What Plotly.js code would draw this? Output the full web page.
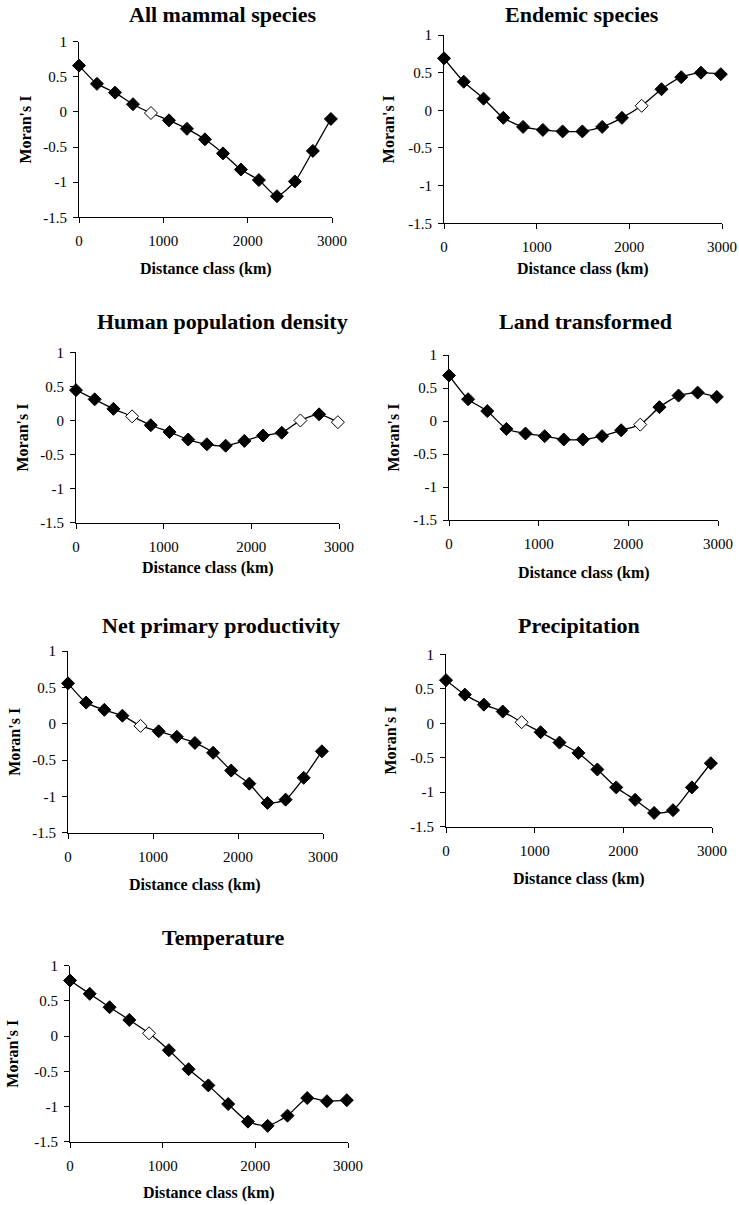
<!DOCTYPE html>
<html>
<head>
<meta charset="utf-8">
<script src="https://cdn.plot.ly/plotly-3.0.1.min.js"></script>
<style>html,body{margin:0;padding:0;background:#fff;}#chart{width:739px;height:1205px;}</style>
</head>
<body>
<div id="chart"></div>
<script>
// Distance classes (km)
var distance = [0, 213, 427, 640, 853, 1067, 1280, 1493, 1707, 1920, 2133, 2347, 2560, 2773, 2987];

// Moran's I per variable
var allMammals   = [0.66, 0.40, 0.275, 0.11, -0.015, -0.12, -0.24, -0.39, -0.59, -0.82, -0.97, -1.20, -0.99, -0.555, -0.10];
var endemic      = [0.69, 0.38, 0.155, -0.10, -0.22, -0.26, -0.28, -0.28, -0.22, -0.10, 0.06, 0.28, 0.44, 0.50, 0.48];
var humanPop     = [0.445, 0.31, 0.17, 0.06, -0.07, -0.17, -0.28, -0.35, -0.37, -0.30, -0.22, -0.18, 0.00, 0.09, -0.025];
var landTrans    = [0.69, 0.33, 0.15, -0.12, -0.19, -0.23, -0.28, -0.28, -0.23, -0.14, -0.055, 0.21, 0.385, 0.43, 0.365];
var npp          = [0.555, 0.29, 0.19, 0.11, -0.03, -0.105, -0.18, -0.265, -0.40, -0.645, -0.825, -1.09, -1.045, -0.745, -0.38];
var precip       = [0.625, 0.415, 0.27, 0.17, 0.015, -0.13, -0.28, -0.43, -0.67, -0.93, -1.11, -1.30, -1.26, -0.93, -0.58];
var temperature  = [0.79, 0.60, 0.41, 0.23, 0.04, -0.20, -0.47, -0.70, -0.965, -1.215, -1.275, -1.13, -0.88, -0.925, -0.91];

// Non-significant classes (open markers), by index
var openAll    = [4];
var openEnd    = [10];
var openHuman  = [3, 12, 14];
var openLand   = [10];
var openNpp    = [4];
var openPrec   = [4];
var openTemp   = [4];

var titles = ["All mammal species", "Endemic species", "Human population density",
              "Land transformed", "Net primary productivity", "Precipitation", "Temperature"];
var yTicks = [-1.5, -1, -0.5, 0, 0.5, 1];
var yTickText = ["-1.5", "-1", "-0.5", "0", "0.5", "1"];
var xTicks = [0, 1000, 2000, 3000];
var xTickText = ["0", "1000", "2000", "3000"];

var seriesList = [allMammals, endemic, humanPop, landTrans, npp, precip, temperature];
var openList = [openAll, openEnd, openHuman, openLand, openNpp, openPrec, openTemp];

// Layout: pixel boxes [left, right, top, bottom], title centre, x-title y, y-title x
var W = 739, H = 1205;
var panels = [
  {box: [79, 332, 41.7, 217.3],  tc: [223, 15],  xt: 269,  yt: 25},
  {box: [444, 722, 35, 223.3],   tc: [582, 15],  xt: 269,  yt: 388},
  {box: [76, 339, 352.3, 522.7], tc: [223, 322], xt: 568,  yt: 22},
  {box: [449, 718, 355, 520],    tc: [585, 322], xt: 573,  yt: 393},
  {box: [68, 323, 651, 832.7],   tc: [221, 625], xt: 885,  yt: 15},
  {box: [446, 712, 654.3, 826.7],tc: [579, 625], xt: 879,  yt: 390},
  {box: [70, 348, 965.7, 1141.7],tc: [223, 937], xt: 1193, yt: 13}
];

var FONT = '"Liberation Serif", "Times New Roman", Times, serif';
var data = [];
var layout = {
  width: W, height: H,
  margin: {l: 0, r: 0, t: 0, b: 0},
  paper_bgcolor: '#fff', plot_bgcolor: '#fff',
  showlegend: false,
  font: {family: FONT, color: '#000', size: 15},
  annotations: []
};

panels.forEach(function (p, i) {
  var n = i + 1;
  var xa = 'xaxis' + (n === 1 ? '' : n), ya = 'yaxis' + (n === 1 ? '' : n);
  var xr = 'x' + (n === 1 ? '' : n), yr = 'y' + (n === 1 ? '' : n);
  var vals = seriesList[i];
  var fills = vals.map(function (v, k) { return openList[i].indexOf(k) >= 0 ? '#fff' : '#000'; });
  data.push({
    type: 'scatter', mode: 'lines+markers',
    x: distance, y: vals, xaxis: xr, yaxis: yr,
    line: {color: '#000', width: 1.3, shape: 'spline', smoothing: 0.6},
    marker: {symbol: 'diamond', size: 10, color: fills, line: {color: '#000', width: 1}},
    cliponaxis: false, hoverinfo: 'x+y'
  });
  layout[xa] = {
    domain: [p.box[0] / W, p.box[1] / W],
    anchor: yr, range: [0, 3000],
    tickvals: xTicks, ticktext: xTickText,
    ticks: 'outside', ticklen: 5, tickcolor: '#000', tickwidth: 1,
    showline: true, linecolor: '#000', linewidth: 1,
    showgrid: false, zeroline: false,
    tickfont: {family: FONT, size: 15, color: '#000'},
    ticklabelstandoff: 5
  };
  layout[ya] = {
    domain: [1 - p.box[3] / H, 1 - p.box[2] / H],
    anchor: xr, range: [-1.5, 1],
    tickvals: yTicks, ticktext: yTickText,
    ticks: 'outside', ticklen: 5, tickcolor: '#000', tickwidth: 1,
    showline: true, linecolor: '#000', linewidth: 1,
    showgrid: false, zeroline: false,
    tickfont: {family: FONT, size: 15, color: '#000'},
    ticklabelstandoff: 3
  };
  layout.annotations.push({
    text: '<b>' + titles[i] + '</b>', xref: 'paper', yref: 'paper',
    x: p.tc[0] / W, y: 1 - p.tc[1] / H, xanchor: 'center', yanchor: 'middle',
    showarrow: false, font: {family: FONT, size: 22, color: '#000'}
  });
  layout.annotations.push({
    text: '<b>Distance class (km)</b>', xref: 'paper', yref: 'paper',
    x: (p.box[0] + p.box[1]) / 2 / W, y: 1 - p.xt / H, xanchor: 'center', yanchor: 'middle',
    showarrow: false, font: {family: FONT, size: 16, color: '#000'}
  });
  layout.annotations.push({
    text: "<b>Moran's I</b>", xref: 'paper', yref: 'paper', textangle: -90,
    x: p.yt / W, y: 1 - (p.box[2] + p.box[3]) / 2 / H, xanchor: 'center', yanchor: 'middle',
    showarrow: false, font: {family: FONT, size: 16, color: '#000'}
  });
});

Plotly.newPlot('chart', data, layout, {staticPlot: true, displayModeBar: false});
</script>
</body>
</html>
